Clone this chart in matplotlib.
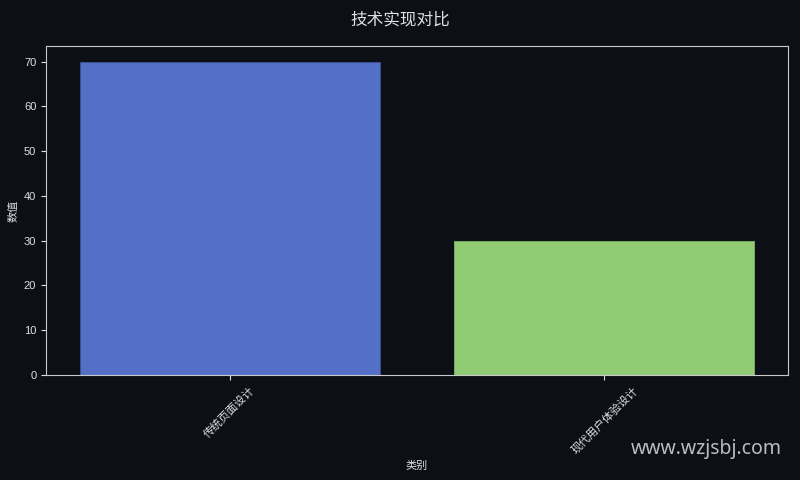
import matplotlib
matplotlib.use('Agg')
import matplotlib.pyplot as plt

plt.rcParams['font.family'] = ['Liberation Sans', 'Noto Sans CJK SC', 'DejaVu Sans']

categories = ['传统页面设计', '现代用户体验设计']
values = [70, 30]
colors = ['#5470c6', '#91cc75']
edges = ['#3d5096', '#7fb865']

bg = '#0c0f16'
fg = '#e0e0e0'

fig = plt.figure(figsize=(8, 4.8), dpi=100, facecolor=bg)
ax = fig.add_axes([0.0575, 0.219, 0.9275, 0.685])
ax.set_facecolor(bg)

ax.bar(categories, values, color=colors, width=0.8, edgecolor=edges, linewidth=0.6)

ax.set_xlabel('类别', color=fg, fontsize=8)
ax.set_ylabel('数值', color=fg, fontsize=8)
ax.tick_params(colors=fg, labelsize=8)
plt.setp(ax.get_xticklabels(), rotation=45, ha='center')
for s in ax.spines.values():
    s.set_color('#c8c8c8')

fig.suptitle('技术实现对比', color=fg, fontsize=12, y=0.975)

fig.text(0.977, 0.065, 'www.wzjsbj.com', color='#d0d0d0', fontsize=14,
         ha='right', va='center', alpha=0.9, family=['Noto Sans', 'DejaVu Sans'])

fig.savefig('out.png', facecolor=bg)
